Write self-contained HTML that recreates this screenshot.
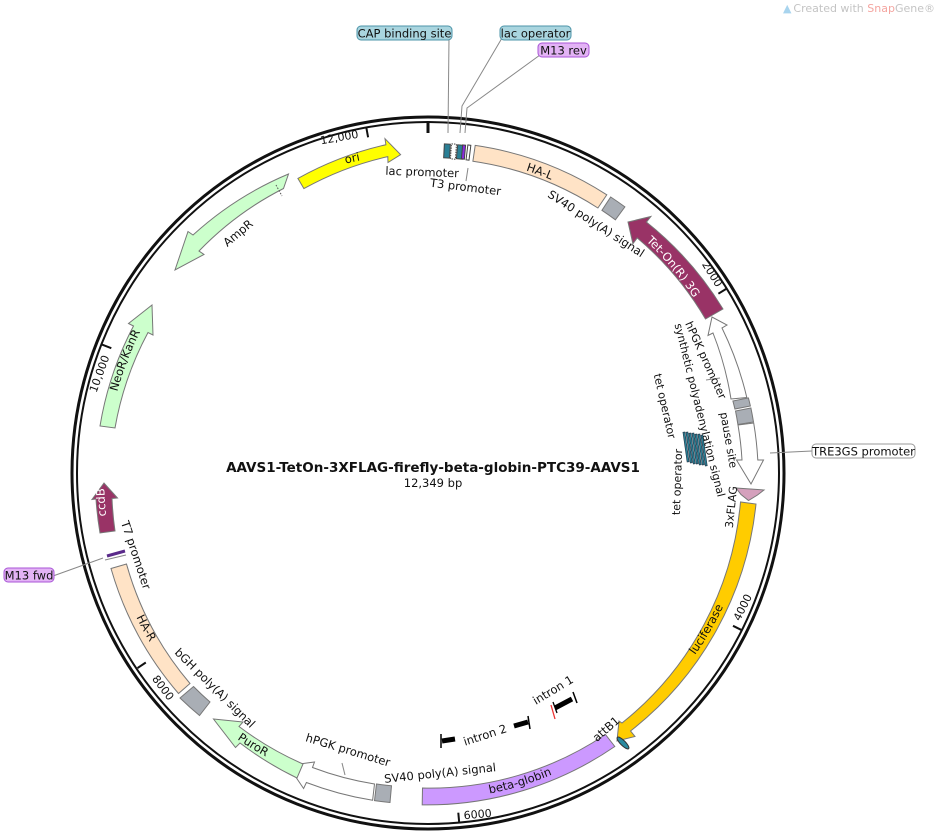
<!DOCTYPE html>
<html><head><meta charset="utf-8"><style>
html,body{margin:0;padding:0;background:#fff;}
svg{display:block;font-family:"DejaVu Sans","Liberation Sans",sans-serif;}
.t{font-size:11.5px;fill:#111;}
.f{font-size:11.5px;fill:#111;}
</style></head><body>
<svg width="940" height="834" viewBox="0 0 940 834" xmlns="http://www.w3.org/2000/svg">
<defs>
<path id="pOri" d="M 302.7 177.5 A 319 319 0 0 1 405.1 154.8"/>
<path id="pHAL" d="M 473.1 158.2 A 318 318 0 0 1 599.0 205.0"/>
<path id="pTet" d="M 628.2 225.4 A 318 318 0 0 1 706.2 318.5"/>
<path id="pLuc" d="M 610.1 738.4 A 326 326 0 0 0 753.2 491.4"/>
<path id="pBG" d="M 425.8 799.5 A 326 326 0 0 0 608.6 744.3"/>
<path id="pPuro" d="M 215.9 723.5 A 326 326 0 0 0 289.5 768.1"/>
<path id="pHAR" d="M 116.2 564.4 A 326 326 0 0 0 182.8 687.9"/>
<path id="pCcd" d="M 107.4 526.0 A 319 319 0 0 1 104.3 478.0"/>
<path id="pNeo" d="M 110.9 420.2 A 319 319 0 0 1 154.5 306.5"/>
<path id="pAmp" d="M 181.7 270.2 A 319 319 0 0 1 285.0 188.5"/>
</defs>

<text x="783" y="12" style="font-size:11px;fill:#a8d4ee">▲</text>
<text x="935" y="12" text-anchor="end" style="font-size:11px;fill:#c4c4c4">Created with <tspan fill="#f4a5a0">Snap</tspan>Gene®</text>

<circle cx="428" cy="473" r="356" fill="none" stroke="#111" stroke-width="3"/>
<circle cx="428" cy="473" r="351" fill="none" stroke="#111" stroke-width="2"/>

<g stroke="#111" stroke-width="2">
<line x1="428" y1="122" x2="428" y2="133" stroke-width="3"/>
<line x1="366.3" y1="127.5" x2="368.1" y2="137.3"/>
<line x1="726.8" y1="288.5" x2="718.4" y2="293.7"/>
<line x1="741.8" y1="630.2" x2="733.0" y2="625.8"/>
<line x1="459.2" y1="822.6" x2="458.3" y2="812.7"/>
<line x1="137.5" y1="668.1" x2="145.8" y2="662.5"/>
<line x1="102.0" y1="344.6" x2="111.3" y2="348.2"/>
</g>
<g class="t">
<text transform="translate(340,141) rotate(-10)" text-anchor="middle" font-size="11">12,000</text>
<text transform="translate(709,276) rotate(58)" text-anchor="middle" font-size="11">2000</text>
<text transform="translate(746,609) rotate(-64)" text-anchor="middle" font-size="11">4000</text>
<text transform="translate(478,818) rotate(-5)" text-anchor="middle" font-size="11">6000</text>
<text transform="translate(160,690) rotate(53)" text-anchor="middle" font-size="11">8000</text>
<text transform="translate(103,375) rotate(-70)" text-anchor="middle" font-size="11">10,000</text>
</g>

<g stroke="#777" stroke-width="1">
<path fill="#ffff00" d="M 297.9 178.4 A 331 331 0 0 1 385.9 144.7 L 385.0 138.7 L 400.6 154.7 L 388.0 162.5 L 387.8 156.6 A 316 316 0 0 0 303.9 188.6 Z"/>
<path fill="#ffe3c6" d="M 475.2 145.4 A 331 331 0 0 1 606.8 194.8 L 597.9 208.0 A 315 315 0 0 0 472.9 161.2 Z"/>
<path fill="#a9aeb5" d="M 610.7 197.0 A 331 331 0 0 1 624.9 206.9 L 615.4 219.8 A 315 315 0 0 0 601.9 210.3 Z"/>
<path fill="#993366" d="M 723.0 309.0 A 333 333 0 0 0 646.5 222.1 L 650.9 216.5 L 628.0 222.0 L 632.9 243.7 L 637.2 237.9 A 313 313 0 0 1 705.5 319.0 Z"/>
<path fill="#fff" d="M 746.8 397.5 A 330 330 0 0 0 722.0 328.0 L 727.0 325.0 L 712.0 317.0 L 708.0 335.5 L 713.0 333.0 A 314 314 0 0 1 731.0 399.0 Z"/>
<path fill="#a9aeb5" d="M 748.4 397.9 A 330 330 0 0 1 750.4 406.0 L 734.9 409.0 A 314 314 0 0 0 732.9 401.0 Z"/>
<path fill="#a9aeb5" d="M 750.9 408.0 A 330 330 0 0 1 753.5 422.0 L 737.9 424.5 A 314 314 0 0 0 735.5 411.0 Z"/>
<path fill="#fff" d="M 753.7 423.0 A 330 330 0 0 1 757.8 460.0 L 763.5 460.0 L 751.0 484.0 L 736.5 460.0 L 742.0 460.0 A 314 314 0 0 0 738.0 425.0 Z"/>
<path fill="#d4a0bc" d="M 736.0 488.0 L 764.0 490.0 L 757.5 495.0 L 748.5 500.5 L 741.0 494.5 Z"/>
<path fill="#ffcc00" d="M 756.0 504.0 A 331 331 0 0 1 630.5 731.0 L 635.0 736.5 L 617.0 741.0 L 619.0 721.0 L 622.0 723.0 A 318 318 0 0 0 740.5 502.0 Z"/>
<ellipse cx="623" cy="743" rx="2.5" ry="8" fill="#2a8aa0" stroke="#333" transform="rotate(-45 623 743)"/>
<path fill="#cc99ff" d="M 614.8 746.5 A 332 332 0 0 1 422.2 804.9 L 422.5 788.0 A 315 315 0 0 0 605.5 734.5 Z"/>
<path fill="#a9aeb5" d="M 390.0 802.5 A 332 332 0 0 1 374.5 800.6 L 376.5 784.0 A 315 315 0 0 0 391.5 785.8 Z"/>
<path fill="#fff" d="M 372.6 800.3 A 332 332 0 0 1 306.4 782.5 L 303.6 788.5 L 288.0 765.5 L 314.5 762.0 L 312.5 767.5 A 315 315 0 0 0 374.5 784.0 Z"/>
<path fill="#ccffcc" d="M 297.0 778.0 A 332 332 0 0 1 240.0 743.0 L 235.5 747.5 L 213.5 719.0 L 243.0 722.0 L 239.0 726.5 A 315 315 0 0 0 303.0 764.0 Z"/>
<path fill="#a9aeb5" d="M 199.5 715.5 A 332 332 0 0 1 180.0 698.0 L 193.5 686.5 A 315 315 0 0 0 210.0 702.0 Z"/>
<path fill="#ffe3c6" d="M 178.5 693.5 A 332 332 0 0 1 111.0 568.5 L 126.5 564.0 A 315 315 0 0 0 190.0 683.5 Z"/>
<line x1="107" y1="556" x2="125" y2="551" stroke="#5a2a8a" stroke-width="3"/>
<line x1="105" y1="560" x2="126" y2="555" stroke="#888" stroke-width="1"/>
<path fill="#993366" d="M 100.0 533.0 A 333 333 0 0 1 96.0 499.0 L 92.0 499.5 L 104.0 483.0 L 117.5 498.0 L 112.0 498.5 A 318 318 0 0 0 115.0 531.0 Z"/>
<path fill="#ccffcc" d="M 100.0 426.0 A 331 331 0 0 1 133.5 326.0 L 128.5 323.5 L 152.0 305.0 L 153.0 335.0 L 148.0 332.5 A 316 316 0 0 0 115.0 428.0 Z"/>
<path fill="#ccffcc" d="M 288.5 174.0 A 331 331 0 0 0 193.0 235.0 L 188.0 231.5 L 175.0 270.0 L 204.0 254.5 L 199.0 251.0 A 316 316 0 0 1 283.5 188.5 Z"/>
<line x1="276" y1="185" x2="282" y2="196" stroke="#555" stroke-dasharray="1.5 1.5"/>
</g>

<g stroke="#444" stroke-width="1">
<rect x="444" y="144" width="6" height="14" fill="#2a7f95" transform="rotate(3 447 151)"/>
<rect x="451" y="144" width="5" height="15" fill="#fff" stroke-dasharray="1.5 1" transform="rotate(4 453 151)"/>
<rect x="457" y="145" width="6" height="14" fill="#2a7f95" transform="rotate(5 460 152)"/>
<rect x="462" y="145" width="3" height="14" fill="#8a2ae0" transform="rotate(5 463 152)"/>
<rect x="467" y="145" width="3" height="15" fill="#fff" transform="rotate(7 468 152)"/>
</g>

<g fill="#2a7f95" stroke="#234" stroke-width="0.6">
<rect x="685" y="432" width="2" height="30" transform="rotate(-8 686 447)"/>
<rect x="688" y="432" width="2" height="31" transform="rotate(-8 689 447)"/>
<rect x="691" y="433" width="2" height="31" transform="rotate(-8 692 448)"/>
<rect x="694" y="433" width="2" height="31" transform="rotate(-8 695 448)"/>
<rect x="697" y="434" width="2" height="31" transform="rotate(-8 698 449)"/>
<rect x="700" y="434" width="2" height="31" transform="rotate(-8 701 449)"/>
<rect x="703" y="435" width="2" height="31" transform="rotate(-8 704 450)"/>
</g>

<g stroke="#000">
<line x1="555" y1="708" x2="572" y2="699" stroke-width="5"/>
<line x1="573" y1="692" x2="577" y2="703" stroke-width="1.5"/>
<line x1="551" y1="705" x2="555" y2="719" stroke="#e33" stroke-width="1.3"/>
<line x1="553" y1="702" x2="557" y2="713" stroke-width="1.3"/>
<line x1="514" y1="726" x2="528" y2="722" stroke-width="5"/>
<line x1="528" y1="716" x2="530" y2="729" stroke-width="1.5"/>
<line x1="442" y1="741" x2="455" y2="739" stroke-width="5"/>
<line x1="441" y1="734" x2="441" y2="748" stroke-width="1.5"/>
</g>

<g stroke="#888" stroke-width="1" fill="none">
<polyline points="449,38 448,133"/>
<polyline points="502,38 462,106 460,133"/>
<polyline points="540,55 467,108 465,133"/>
<polyline points="770,453 812,451"/>
<polyline points="53,576 103,558"/>
<polyline points="468,168 466,181"/>
<polyline points="342,763 345,775"/>
<polyline points="706,380 720,378"/>
</g>

<rect x="357" y="26" width="95" height="14" rx="4" fill="#a9d5df" stroke="#4d94a8"/>
<text x="404.5" y="37.5" class="t" text-anchor="middle">CAP binding site</text>
<rect x="500" y="26" width="71" height="14" rx="4" fill="#a9d5df" stroke="#4d94a8"/>
<text x="535.5" y="37.5" class="t" text-anchor="middle">lac operator</text>
<rect x="538" y="43" width="51" height="14" rx="4" fill="#e3b3f5" stroke="#a855d6"/>
<text x="563.5" y="54.5" class="t" text-anchor="middle">M13 rev</text>
<rect x="812" y="444" width="103" height="14" rx="4" fill="#fff" stroke="#999"/>
<text x="863.5" y="455.5" class="t" text-anchor="middle">TRE3GS promoter</text>
<rect x="4" y="568" width="50" height="14" rx="4" fill="#e3b3f5" stroke="#a855d6"/>
<text x="29" y="579.5" class="t" text-anchor="middle">M13 fwd</text>

<text class="f"><textPath href="#pOri" startOffset="50%" text-anchor="middle">ori</textPath></text>
<text class="f"><textPath href="#pHAL" startOffset="50%" text-anchor="middle">HA-L</textPath></text>
<text class="f" style="fill:#fff"><textPath href="#pTet" startOffset="50%" text-anchor="middle">Tet-On(R) 3G</textPath></text>
<text class="f"><textPath href="#pLuc" startOffset="50%" text-anchor="middle">luciferase</textPath></text>
<text class="f"><textPath href="#pBG" startOffset="50%" text-anchor="middle">beta-globin</textPath></text>
<text class="f"><textPath href="#pPuro" startOffset="50%" text-anchor="middle">PuroR</textPath></text>
<text class="f"><textPath href="#pHAR" startOffset="50%" text-anchor="middle">HA-R</textPath></text>
<text class="f" style="fill:#fff"><textPath href="#pCcd" startOffset="50%" text-anchor="middle">ccdB</textPath></text>
<text class="f"><textPath href="#pNeo" startOffset="50%" text-anchor="middle">NeoR/KanR</textPath></text>

<g class="t">
<text transform="translate(422,176) rotate(2)" text-anchor="middle">lac promoter</text>
<text transform="translate(465,191) rotate(7)" text-anchor="middle">T3 promoter</text>
<text transform="translate(594,227) rotate(33)" text-anchor="middle">SV40 poly(A) signal</text>
<text transform="translate(706,360) rotate(65.5)" text-anchor="middle" dy="4" font-size="11">hPGK promoter</text>
<text transform="translate(700,410) rotate(76)" text-anchor="middle" dy="4" font-size="11">synthetic polyadenylation signal</text>
<text transform="translate(729,440) rotate(80)" text-anchor="middle" dy="4" font-size="11">pause site</text>
<text transform="translate(665,406) rotate(77)" text-anchor="middle" dy="4" font-size="11">tet operator</text>
<text transform="translate(677,482) rotate(-88)" text-anchor="middle" dy="4" font-size="11">tet operator</text>
<text transform="translate(731,507) rotate(-84)" text-anchor="middle" dy="4" font-size="11">3xFLAG</text>
<text transform="translate(606,729) rotate(-41)" text-anchor="middle" dy="4">attB1</text>
<text transform="translate(553,690) rotate(-31)" text-anchor="middle" dy="4">intron 1</text>
<text transform="translate(485,735) rotate(-18)" text-anchor="middle" dy="4">intron 2</text>
<text transform="translate(348,750) rotate(17)" text-anchor="middle" dy="4">hPGK promoter</text>
<text transform="translate(440,773) rotate(-6)" text-anchor="middle" dy="4">SV40 poly(A) signal</text>
<text transform="translate(215,688) rotate(44.6)" text-anchor="middle" dy="4">bGH poly(A) signal</text>
<text transform="translate(136,555) rotate(71.5)" text-anchor="middle" dy="4">T7 promoter</text>
<text transform="translate(238,233) rotate(-40)" text-anchor="middle" dy="4">AmpR</text>
</g>

<text x="433" y="472" text-anchor="middle" style="font-size:13.5px;font-weight:bold;fill:#111">AAVS1-TetOn-3XFLAG-firefly-beta-globin-PTC39-AAVS1</text>
<text x="433" y="487" text-anchor="middle" style="font-size:11.5px;fill:#111">12,349 bp</text>
</svg>
</body></html>
